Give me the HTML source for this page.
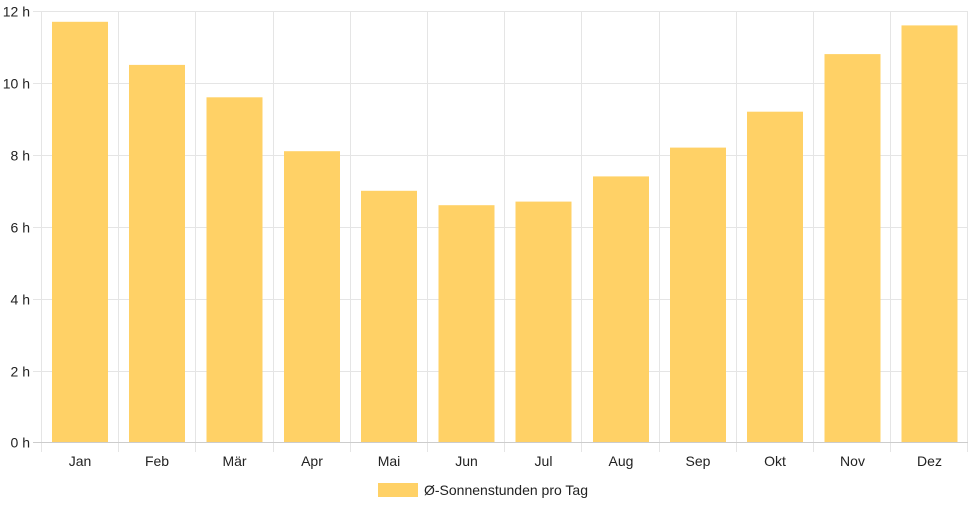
<!DOCTYPE html>
<html><head><meta charset="utf-8"><style>html,body{margin:0;padding:0;background:#fff}svg{display:block}</style></head>
<body>
<svg width="968" height="508" xmlns="http://www.w3.org/2000/svg" font-family="Liberation Sans, Arial, sans-serif" font-size="14" fill="#222">
<g stroke="#e5e5e5" stroke-width="1">
<line x1="33" y1="11.5" x2="968" y2="11.5"/>
<line x1="33" y1="83.5" x2="968" y2="83.5"/>
<line x1="33" y1="155.5" x2="968" y2="155.5"/>
<line x1="33" y1="227.5" x2="968" y2="227.5"/>
<line x1="33" y1="299.5" x2="968" y2="299.5"/>
<line x1="33" y1="371.5" x2="968" y2="371.5"/>
</g>
<g stroke="#e5e5e5" stroke-width="1">
<line x1="41.5" y1="11" x2="41.5" y2="452"/>
<line x1="118.5" y1="11" x2="118.5" y2="452"/>
<line x1="195.5" y1="11" x2="195.5" y2="452"/>
<line x1="273.5" y1="11" x2="273.5" y2="452"/>
<line x1="350.5" y1="11" x2="350.5" y2="452"/>
<line x1="427.5" y1="11" x2="427.5" y2="452"/>
<line x1="504.5" y1="11" x2="504.5" y2="452"/>
<line x1="581.5" y1="11" x2="581.5" y2="452"/>
<line x1="659.5" y1="11" x2="659.5" y2="452"/>
<line x1="736.5" y1="11" x2="736.5" y2="452"/>
<line x1="813.5" y1="11" x2="813.5" y2="452"/>
<line x1="890.5" y1="11" x2="890.5" y2="452"/>
<line x1="967.5" y1="11" x2="967.5" y2="452"/>
</g>
<g fill="#FFD166">
<rect x="52" y="21.8" width="56" height="420.7"/>
<rect x="129" y="64.9" width="56" height="377.6"/>
<rect x="206.5" y="97.3" width="56" height="345.2"/>
<rect x="284" y="151.2" width="56" height="291.3"/>
<rect x="361" y="190.8" width="56" height="251.7"/>
<rect x="438.5" y="205.2" width="56" height="237.3"/>
<rect x="515.5" y="201.6" width="56" height="240.9"/>
<rect x="593" y="176.4" width="56" height="266.1"/>
<rect x="670" y="147.6" width="56" height="294.9"/>
<rect x="747" y="111.7" width="56" height="330.8"/>
<rect x="824.5" y="54.1" width="56" height="388.4"/>
<rect x="901.5" y="25.4" width="56" height="417.1"/>
</g>
<line x1="33" y1="442.5" x2="968" y2="442.5" stroke="#ccc"/>
<g text-anchor="end">
<text x="30" y="16.5">12 h</text>
<text x="30" y="88.5">10 h</text>
<text x="30" y="160.5">8 h</text>
<text x="30" y="232.5">6 h</text>
<text x="30" y="304.5">4 h</text>
<text x="30" y="376.5">2 h</text>
<text x="30" y="447.5">0 h</text>
</g>
<g text-anchor="middle">
<text x="80" y="466">Jan</text>
<text x="157" y="466">Feb</text>
<text x="234.5" y="466">Mär</text>
<text x="312" y="466">Apr</text>
<text x="389" y="466">Mai</text>
<text x="466.5" y="466">Jun</text>
<text x="543.5" y="466">Jul</text>
<text x="621" y="466">Aug</text>
<text x="698" y="466">Sep</text>
<text x="775" y="466">Okt</text>
<text x="852.5" y="466">Nov</text>
<text x="929.5" y="466">Dez</text>
</g>
<rect x="378" y="483" width="40" height="14" fill="#FFD166"/>
<text x="424" y="495">Ø-Sonnenstunden pro Tag</text>
</svg>
</body></html>
